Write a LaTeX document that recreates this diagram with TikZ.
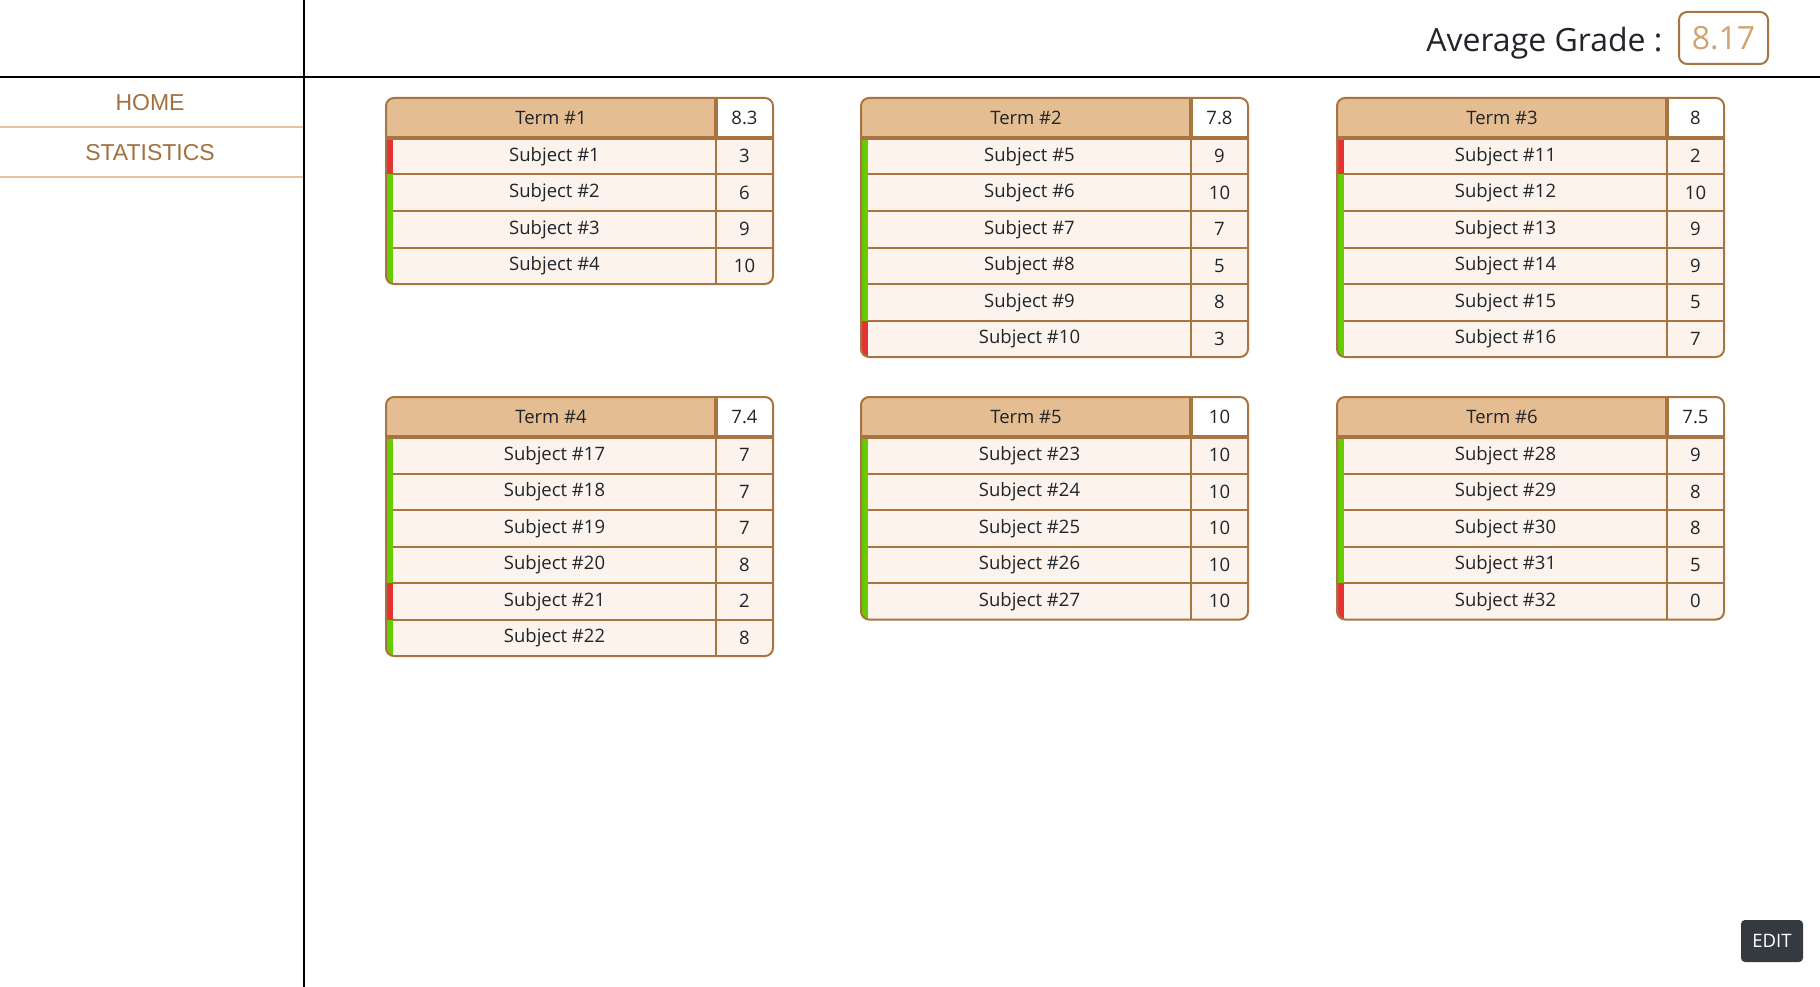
\documentclass[tikz,border=0pt]{standalone}
\usepackage{fontspec}
\setmainfont{Open Sans}
\newfontfamily\navfont{Liberation Sans}
\usetikzlibrary{positioning,calc}
\definecolor{brownline}{HTML}{A87441}
\definecolor{headfill}{HTML}{E4BD92}
\definecolor{rowfill}{HTML}{FBF3EC}
\definecolor{passgreen}{HTML}{66CC00}
\definecolor{failred}{HTML}{E53333}
\definecolor{inktext}{HTML}{212529}
\definecolor{avgtext}{HTML}{D4A272}
\definecolor{navtext}{HTML}{A47040}
\definecolor{navline}{HTML}{E2C4A2}
\definecolor{editfill}{HTML}{343A40}
\tikzset{
cell/.style = {rectangle, inner sep=0pt, outer sep=0pt, text=inktext, font=\fontsize{18.5}{22}\selectfont},
headcell/.style = {cell, fill=headfill, minimum width=330pt, minimum height=40pt},
avgcell/.style = {cell, fill=white, minimum width=57pt, minimum height=40pt},
subjcell/.style = {cell, fill=rowfill, minimum width=323pt, minimum height=36.5pt},
gradecell/.style = {cell, fill=rowfill, minimum width=57pt, minimum height=36.5pt},
rowline/.style = {draw=brownline, line width=2pt},
headline/.style = {draw=brownline, line width=4pt},
cardborder/.style = {draw=brownline, line width=2pt, rounded corners=8pt},
navitem/.style = {text=navtext, font=\navfont\fontsize{23}{27}\selectfont},
navsep/.style = {draw=navline, line width=1.5pt},
frame/.style = {draw=black, line width=2pt}
}
% one term card: name, x, y, title, average, rows, subject/grade list
\newcommand{\termcard}[7]{
\begin{scope}
\clip[rounded corners=8pt] (#2,#3) rectangle ++(387,{40+36.5*#6});
\node[headcell, anchor=north west] (#1-head) at (#2,#3) {#4};
\node[avgcell, right=0pt of #1-head] (#1-avg) {#5};
\foreach \s/\g [count=\i] in {#7} {
  \ifnum\g<5 \def\barcol{failred}\else\def\barcol{passgreen}\fi
  \pgfmathsetmacro\rowy{#3+40+36.5*(\i-1)}
  \node[subjcell, anchor=north west] (#1-s\i) at (#2+7,\rowy) {Subject \#\s};
  \node[gradecell, right=0pt of #1-s\i] (#1-g\i) {\g};
  \fill[\barcol] (#1-s\i.north west) rectangle ([xshift=-7pt]#1-s\i.south west);
}
\foreach \i in {1,...,#6}
  \draw[rowline] (#1-s\i.south west) -- (#1-g\i.south east);
\draw[rowline] (#1-head.south east) -- (#1-s#6.south east);
\draw[headline] (#1-head.south west) -- (#1-avg.south east);
\draw[headline] (#1-head.north east) -- (#1-head.south east);
\end{scope}
\draw[cardborder] (#1-head.north west) rectangle (#1-g#6.south east);
}
\begin{document}
\begin{tikzpicture}[x=1pt, y=-1pt, auto]
\useasboundingbox (0,0) rectangle (1820,987);
\fill[white] (0,0) rectangle (1820,987);
% page frame
\draw[frame] (304,0) -- (304,987);
\draw[frame] (0,77) -- (1820,77);
% side menu
\node[navitem] (home) at (150,103) {HOME};
\node[navitem] (stats) at (150,153) {STATISTICS};
\draw[navsep] (0,127) -- (303,127);
\draw[navsep] (0,177) -- (303,177);
% average grade
\node[draw=brownline, line width=2pt, rounded corners=8pt, minimum width=89pt, minimum height=52pt, inner sep=0pt, text=avgtext, font=\fontsize{32}{36}\selectfont] (avgbox) at (1723.5,38) {8.17};
\node[text=inktext, font=\fontsize{32}{36}\selectfont, anchor=base east] (avglabel) at (1666,52) {Average Grade :};
% terms
\termcard{t1}{386}{98}{Term \#1}{8.3}{4}{1/3,2/6,3/9,4/10}
\termcard{t2}{861}{98}{Term \#2}{7.8}{6}{5/9,6/10,7/7,8/5,9/8,10/3}
\termcard{t3}{1337}{98}{Term \#3}{8}{6}{11/2,12/10,13/9,14/9,15/5,16/7}
\termcard{t4}{386}{397}{Term \#4}{7.4}{6}{17/7,18/7,19/7,20/8,21/2,22/8}
\termcard{t5}{861}{397}{Term \#5}{10}{5}{23/10,24/10,25/10,26/10,27/10}
\termcard{t6}{1337}{397}{Term \#6}{7.5}{5}{28/9,29/8,30/8,31/5,32/0}
% edit button
\node[fill=editfill, rounded corners=4pt, minimum width=62pt, minimum height=42pt, inner sep=0pt, text=white, font=\fontsize{18.5}{22}\selectfont] (edit) at (1772,941) {EDIT};
\end{tikzpicture}
\end{document}
